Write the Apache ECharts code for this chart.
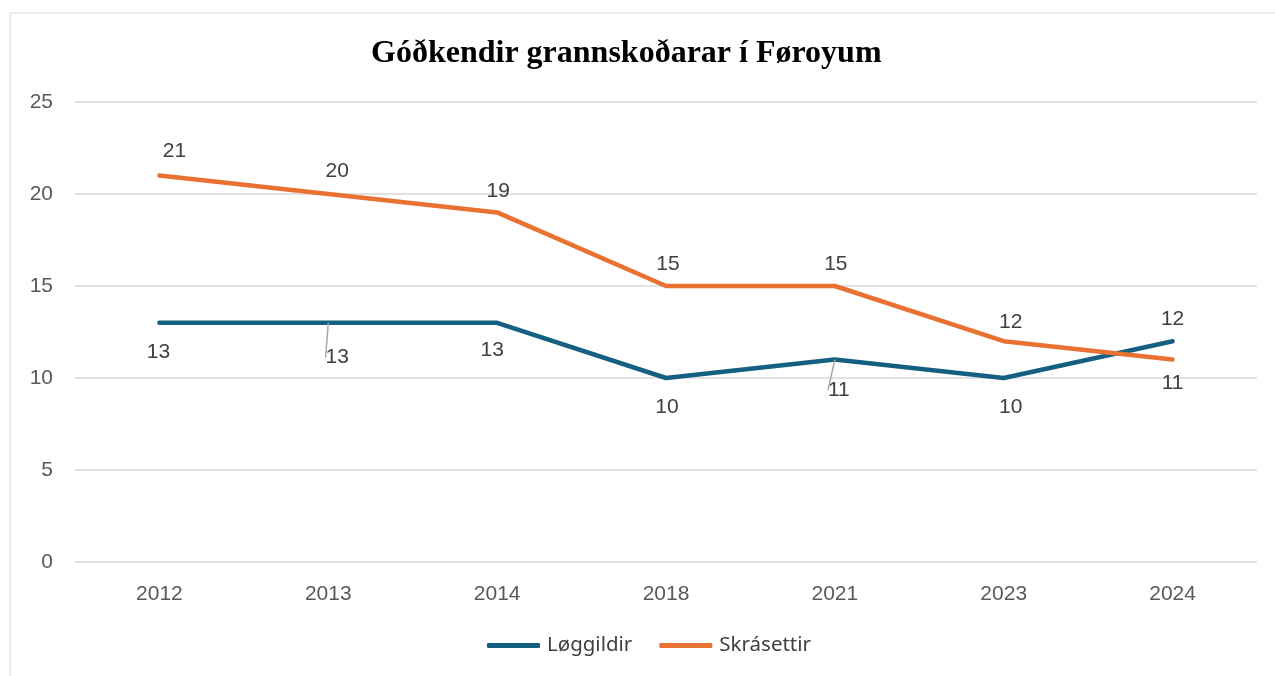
<!DOCTYPE html>
<html>
<head>
<meta charset="utf-8">
<script src="https://cdn.jsdelivr.net/npm/echarts@6/dist/echarts.min.js"></script>
<style>
html,body{margin:0;padding:0;background:#fff;}
#main{width:1275px;height:676px;}
</style>
</head>
<body>
<div id="main"></div>
<script>
// 数据
const years = ['2012', '2013', '2014', '2018', '2021', '2023', '2024'];
const loggildir = [13, 13, 13, 10, 11, 10, 12];
const skrasettir = [21, 20, 19, 15, 15, 12, 11];
// label shifts (px), two teal labels get leader lines
const tealShift = [[-1, 7], [9, 12], [-5, 5], [1, 7], [4, 8], [7, 7], [0, 1]];
const orangeShift = [[15, -3], [9, -1], [1, 0], [2, 0], [1, 0], [7, 3], [0, 2]];
const tealLeader = [false, true, false, false, true, false, false];

let chart = echarts.init(document.getElementById('main'));
let option = {
    animation: false,
    graphic: [{
        type: 'rect',
        shape: {x: 10, y: 13, width: 1300, height: 700},
        style: {fill: 'none', stroke: '#d9d9d9', lineWidth: 1}
    }],
    title: {
        text: 'Góðkendir grannskoðarar í Føroyum',
        left: 366,
        top: 33,
        textStyle: {fontFamily: 'Liberation Serif', fontWeight: 'bold', fontSize: 32, color: '#000'}
    },
    legend: {
        bottom: 15,
        left: 482,
        itemWidth: 53,
        itemHeight: 5,
        itemGap: 27,
        icon: 'roundRect',
        textStyle: {fontFamily: 'Noto Sans', fontSize: 20.5, color: '#404040', padding: [0, 0, 0, 2]},
        data: ['Løggildir', 'Skrásettir']
    },
    grid: {left: 75, right: 18, top: 102, bottom: 114},
    xAxis: {
        type: 'category',
        data: years,
        boundaryGap: true,
        axisLine: {show: false},
        axisTick: {show: false},
        axisLabel: {fontFamily: 'Liberation Sans', fontSize: 21, color: '#595959', margin: 22}
    },
    yAxis: {
        type: 'value',
        min: 0,
        max: 25,
        interval: 5,
        axisLine: {show: false},
        axisTick: {show: false},
        splitLine: {lineStyle: {color: '#d9d9d9', width: 1.5}},
        axisLabel: {fontFamily: 'Liberation Sans', fontSize: 21, color: '#595959', margin: 22}
    },
    series: [{
        name: 'Løggildir',
        type: 'line',
        data: loggildir.map(function (v, i) {
            return {
                value: v,
                label: {position: i === 6 ? 'top' : 'bottom'},
                labelLine: {show: tealLeader[i]}
            };
        }),
        showSymbol: true,
        symbol: 'circle',
        symbolSize: 0,
        color: '#156082',
        lineStyle: {width: 4.5, cap: 'round', join: 'round'},
        label: {show: true, distance: 12, fontFamily: 'Liberation Sans', fontSize: 21, color: '#404040'},
        labelLine: {show: false, lineStyle: {color: '#a6a6a6', width: 1.5}},
        labelLayout: function (p) {
            let s = tealShift[p.dataIndex];
            return {dx: s[0], dy: s[1]};
        }
    }, {
        name: 'Skrásettir',
        type: 'line',
        data: skrasettir.map(function (v, i) {
            return {value: v, label: {position: i === 6 ? 'bottom' : 'top'}};
        }),
        showSymbol: true,
        symbol: 'circle',
        symbolSize: 0,
        color: '#E97132',
        lineStyle: {width: 4.5, cap: 'round', join: 'round'},
        label: {show: true, distance: 11, fontFamily: 'Liberation Sans', fontSize: 21, color: '#404040'},
        labelLayout: function (p) {
            let s = orangeShift[p.dataIndex];
            return {dx: s[0], dy: s[1]};
        }
    }]
};
chart.setOption(option);
</script>
</body>
</html>
